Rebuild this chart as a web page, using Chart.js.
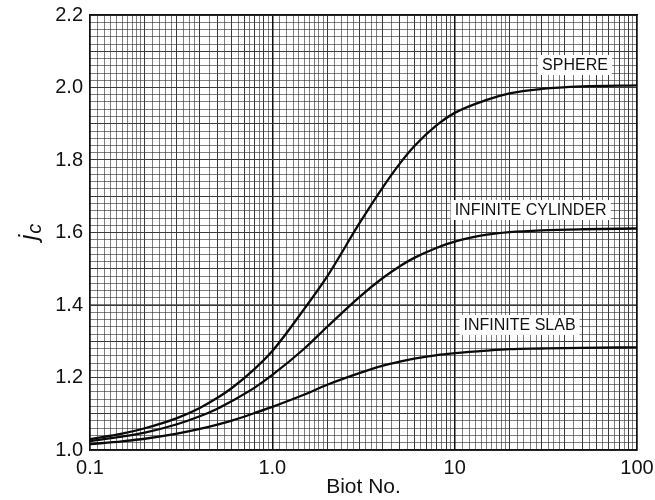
<!DOCTYPE html>
<html>
<head>
<meta charset="utf-8">
<script src="https://cdn.jsdelivr.net/npm/chart.js@4/dist/chart.umd.min.js"></script>
<style>
  html, body { margin: 0; padding: 0; background: #fff; }
  #wrap { width: 655px; height: 500px; }
</style>
</head>
<body>
<div id="wrap"><canvas id="chartContainer" width="655" height="500"></canvas></div>
<script>
// values
const biot     = [0.1, 0.15, 0.2, 0.3, 0.4, 0.5, 0.6, 0.8, 1, 1.5, 2, 3, 4, 5, 6, 8, 10, 15, 20, 30, 50, 100];
const sphere   = [1.030, 1.045, 1.060, 1.088, 1.116, 1.144, 1.171, 1.224, 1.273, 1.390, 1.479, 1.625, 1.722, 1.790, 1.838, 1.897, 1.930, 1.966, 1.984, 1.996, 2.003, 2.006];
const cylinder = [1.025, 1.037, 1.048, 1.071, 1.093, 1.114, 1.135, 1.172, 1.207, 1.280, 1.340, 1.422, 1.473, 1.507, 1.530, 1.558, 1.575, 1.594, 1.601, 1.606, 1.609, 1.611];
const slab     = [1.016, 1.024, 1.031, 1.045, 1.058, 1.070, 1.081, 1.102, 1.119, 1.153, 1.180, 1.212, 1.232, 1.244, 1.252, 1.262, 1.267, 1.274, 1.278, 1.280, 1.282, 1.283];

const xTickValues = [0.1, 1, 10, 100];
const xTickLabels = ['0.1', '1.0', '10', '100'];
const yTickValues = [1.0, 1.2, 1.4, 1.6, 1.8, 2.0, 2.2];
const yTickLabels = ['1.0', '1.2', '1.4', '1.6', '1.8', '2.0', '2.2'];

const curveNames = ['SPHERE', 'INFINITE CYLINDER', 'INFINITE SLAB'];
const nameBiot   = [45.7, 26.1, 22.7];
const nameJc     = [2.062, 1.662, 1.345];

const FONT = '"Liberation Sans", Arial, sans-serif';

// graph paper lines
function decades(mults) {
    let out = [];
    [0.1, 1, 10].forEach(function (d) {
        mults.forEach(function (m) { out.push(+(d * m).toPrecision(6)); });
    });
    return out;
}
const xSolid = decades([1, 2, 3, 4, 5, 6, 7, 8, 9]).concat([100]);
const xDots = decades([1.1, 1.2, 1.3, 1.4, 1.5, 1.6, 1.7, 1.8, 1.9, 2.2, 2.4, 2.6, 2.8,
                       3.25, 3.5, 3.75, 4.5, 5.5, 6.5, 7.5, 8.5, 9.5]);

function isDecade(v) {
    return xTickValues.some(function (t) { return Math.abs(t - v) < 1e-9; });
}

function pts(ys) {
    return biot.map(function (b, i) { return { x: b, y: ys[i] }; });
}

function curve(label, ys) {
    return {
        label: label,
        data: pts(ys),
        borderColor: '#0a0a0a',
        borderWidth: 2.3,
        pointRadius: 0,
        cubicInterpolationMode: 'monotone',
        fill: false
    };
}

const textPlugin = {
    id: 'textPlugin',
    afterDatasetsDraw: function (chart) {
        const ctx = chart.ctx;
        const xs = chart.scales.x, ys = chart.scales.y;
        ctx.save();
        ctx.font = '16px ' + FONT;
        ctx.textAlign = 'center';
        ctx.textBaseline = 'middle';
        for (let i = 0; i < curveNames.length; i++) {
            const px = xs.getPixelForValue(nameBiot[i]);
            const py = ys.getPixelForValue(nameJc[i]);
            const w = ctx.measureText(curveNames[i]).width;
            ctx.fillStyle = '#fff';
            ctx.fillRect(px - w / 2 - 4, py - 10, w + 8, 20);
            ctx.fillStyle = '#111';
            ctx.fillText(curveNames[i], px, py + 1);
        }
        // y axis title j with subscript c
        ctx.translate(31, (chart.chartArea.top + chart.chartArea.bottom) / 2);
        ctx.rotate(-Math.PI / 2);
        ctx.textAlign = 'left';
        ctx.textBaseline = 'alphabetic';
        ctx.font = 'italic 25px ' + FONT;
        const jw = ctx.measureText('j').width;
        ctx.font = 'italic 20px ' + FONT;
        const cw = ctx.measureText('c').width;
        const x0 = -(jw + cw) / 2;
        ctx.font = 'italic 25px ' + FONT;
        ctx.fillText('j', x0, 6);
        ctx.font = 'italic 20px ' + FONT;
        ctx.fillText('c', x0 + jw + 1, 10);
        ctx.restore();
    }
};

const ctx = document.getElementById('chartContainer').getContext('2d');
window.myChart = new Chart(ctx, {
    type: 'line',
    data: {
        datasets: [curve('Sphere', sphere), curve('Infinite cylinder', cylinder), curve('Infinite slab', slab)]
    },
    options: {
        responsive: false,
        animation: false,
        layout: { padding: { top: 15, right: 18, left: 0, bottom: 0 } },
        plugins: { legend: { display: false }, tooltip: { enabled: false } },
        scales: {
            x2: {
                type: 'logarithmic',
                position: 'top',
                min: 0.1, max: 100,
                afterBuildTicks: function (axis) { axis.ticks = xDots.map(function (v) { return { value: v }; }); },
                afterFit: function (axis) { axis.height = 0; },
                ticks: { display: false, padding: 0 },
                border: { display: true, color: '#111', width: 1.5 },
                grid: { drawTicks: false, color: 'rgba(40,40,40,0.6)', lineWidth: 1, borderDash: [1, 3] }
            },
            y2: {
                type: 'linear',
                position: 'right',
                min: 1.0, max: 2.2,
                ticks: { display: false, stepSize: 0.02, padding: 0 },
                afterFit: function (axis) { axis.width = 0; },
                border: { display: true, color: '#111', width: 1.5 },
                grid: { drawTicks: false, color: 'rgba(40,40,40,0.6)', lineWidth: 1, borderDash: [1, 3] }
            },
            x: {
                type: 'logarithmic',
                position: 'bottom',
                min: 0.1, max: 100,
                afterBuildTicks: function (axis) { axis.ticks = xSolid.map(function (v) { return { value: v }; }); },
                afterFit: function (axis) { axis.height = 50; },
                border: { display: true, color: '#111', width: 1.5 },
                grid: {
                    drawTicks: true,
                    tickLength: 6,
                    tickColor: 'rgba(0,0,0,0)',
                    color: function (c) { return c.tick && isDecade(c.tick.value) ? '#111' : '#3a3a3a'; },
                    lineWidth: function (c) { return c.tick && isDecade(c.tick.value) ? 1.5 : 1; }
                },
                ticks: {
                    autoSkip: false,
                    maxRotation: 0,
                    padding: 0,
                    color: '#111',
                    font: { family: FONT, size: 20 },
                    callback: function (v) {
                        const k = xTickValues.findIndex(function (t) { return Math.abs(t - v) < 1e-9; });
                        return k >= 0 ? xTickLabels[k] : '';
                    }
                },
                title: {
                    display: true,
                    text: 'Biot No.',
                    color: '#111',
                    font: { family: FONT, size: 21 },
                    padding: { top: 0, bottom: 0 }
                }
            },
            y: {
                type: 'linear',
                position: 'left',
                min: 1.0, max: 2.2,
                afterFit: function (axis) { axis.width = 90; },
                border: { display: true, color: '#111', width: 1.5 },
                grid: { drawTicks: true, tickLength: 7, tickColor: 'rgba(0,0,0,0)', color: '#3a3a3a', lineWidth: 1 },
                ticks: {
                    stepSize: 0.1,
                    padding: 0,
                    color: '#111',
                    font: { family: FONT, size: 20 },
                    callback: function (v) {
                        const k = yTickValues.findIndex(function (t) { return Math.abs(t - v) < 1e-6; });
                        return k >= 0 ? yTickLabels[k] : '';
                    }
                }
            }
        }
    },
    plugins: [textPlugin]
});
</script>
</body>
</html>
